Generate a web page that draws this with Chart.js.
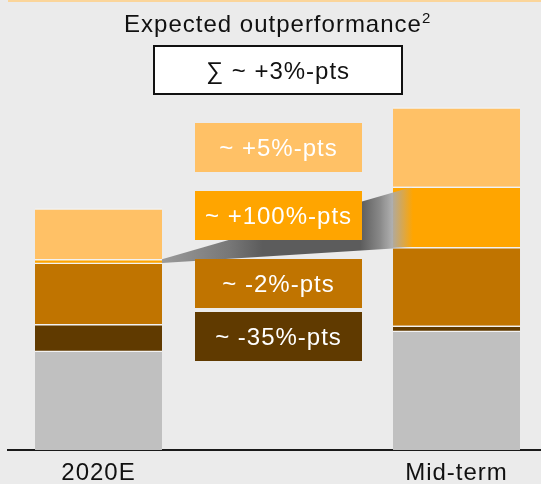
<!DOCTYPE html>
<html>
<head>
<meta charset="utf-8">
<script src="https://cdn.jsdelivr.net/npm/chart.js@4/dist/chart.umd.min.js"></script>
<style>
  body { margin: 0; background: #ebebeb; }
  canvas { display: block; }
</style>
</head>
<body>
<canvas id="grafico" width="541" height="484"></canvas>
<script>
// categorias y segmentos (de abajo hacia arriba)
const categorias = ["2020E", "Mid-term"];
const gris = [41.1, 49.4];
const marronOscuro = [11.0, 2.1];
const marron = [25.5, 32.6];
const naranja = [1.5, 25.1];
const naranjaClaro = [21.0, 32.8];

const etiquetas = ["~ +5%-pts", "~ +100%-pts", "~ -2%-pts", "~ -35%-pts"];
const titulo = "Expected outperformance";
const total = "\u2211 ~ +3%-pts";

const colores = ["#c0c0c0", "#603a00", "#c07400", "#ffa500", "#ffc166"];
const FUENTE = '"Liberation Sans", Arial, sans-serif';

document.addEventListener("DOMContentLoaded", () => {
  const series = [gris, marronOscuro, marron, naranja, naranjaClaro];

  const datasets = series.map((valores, i) => ({
    data: valores.map((v, j) => ({ x: j, y: v })),
    backgroundColor: colores[i],
    borderColor: "#f2f2f2",
    borderWidth: { top: 1.5, left: 0, right: 0, bottom: 0 },
    borderSkipped: false
  }));

  function texto(ctx, t, x, y, size, color) {
    ctx.font = `${size}px ${FUENTE}`;
    ctx.letterSpacing = "1px";
    ctx.fillStyle = color;
    ctx.textAlign = "center";
    ctx.textBaseline = "alphabetic";
    ctx.fillText(t, x, y);
  }

  const extras = {
    id: "extras",
    afterDatasetsDraw(chart) {
      const ctx = chart.ctx;
      const xs = chart.scales.x;
      const ys = chart.scales.y;
      const ancho = 127;
      ctx.save();

      // linea superior
      ctx.fillStyle = "#fbd59a";
      ctx.fillRect(8, 0, 533, 2);

      // conector gris entre los segmentos naranjas
      const base = (j) => gris[j] + marronOscuro[j] + marron[j];
      const x1 = xs.getPixelForValue(0) + ancho / 2;
      const x2 = xs.getPixelForValue(1) - ancho / 2 + 20;
      const a1 = ys.getPixelForValue(base(0) + naranja[0]);
      const b1 = ys.getPixelForValue(base(0));
      const a2 = ys.getPixelForValue(base(1) + naranja[1]);
      const b2 = ys.getPixelForValue(base(1));
      const grad = ctx.createLinearGradient(x1, 0, x2, 0);
      grad.addColorStop(0, "#9a9a9a");
      grad.addColorStop(0.27, "#777777");
      grad.addColorStop(0.4, "#5c5c5c");
      grad.addColorStop(0.79, "#5c5c5c");
      grad.addColorStop(0.87, "#8a8a8a");
      grad.addColorStop(0.92, "rgba(170,170,170,0.9)");
      grad.addColorStop(1, "rgba(170,170,170,0)");
      ctx.fillStyle = grad;
      ctx.beginPath();
      ctx.moveTo(x1, a1);
      ctx.lineTo(x2, a2);
      ctx.lineTo(x2, b2);
      ctx.lineTo(x1, b1);
      ctx.closePath();
      ctx.fill();

      // cajas de anotacion
      const cajas = [
        { y: 123, color: colores[4] },
        { y: 191, color: colores[3] },
        { y: 259, color: colores[2] },
        { y: 312, color: colores[1] }
      ];
      cajas.forEach((c, i) => {
        ctx.fillStyle = c.color;
        ctx.fillRect(195, c.y, 167, 49);
        texto(ctx, etiquetas[i], 278.5, c.y + 33, 24, "#ffffff");
      });

      // titulo con superindice
      ctx.font = `24px ${FUENTE}`;
      ctx.letterSpacing = "1px";
      const w = ctx.measureText(titulo).width;
      const x0 = 278 - (w + 10) / 2;
      ctx.textAlign = "left";
      ctx.fillStyle = "#111111";
      ctx.fillText(titulo, x0, 32);
      ctx.font = `15px ${FUENTE}`;
      ctx.fillText("2", x0 + w, 23);

      // caja del total
      ctx.fillStyle = "#ffffff";
      ctx.fillRect(153, 45, 249, 49);
      ctx.strokeStyle = "#111111";
      ctx.lineWidth = 2;
      ctx.strokeRect(154, 46, 248, 48);
      texto(ctx, total, 278, 79, 24, "#111111");

      // etiquetas del eje
      categorias.forEach((cat, j) => {
        texto(ctx, cat, xs.getPixelForValue(j), 480, 24, "#111111");
      });

      ctx.restore();
    }
  };

  new Chart(document.getElementById("grafico"), {
    type: "bar",
    data: { datasets },
    options: {
      responsive: false,
      animation: false,
      devicePixelRatio: 1,
      layout: { padding: { left: 8, right: 0, top: 16, bottom: 34 } },
      datasets: { bar: { barThickness: 127 } },
      plugins: { legend: { display: false }, tooltip: { enabled: false } },
      scales: {
        x: {
          type: "linear",
          stacked: true,
          offset: false,
          min: -0.2528,
          max: 1.236,
          ticks: { display: false },
          grid: { display: false, drawTicks: false },
          border: { display: true, color: "#1a1a1a", width: 2 }
        },
        y: {
          stacked: true,
          display: false,
          min: 0,
          max: 180
        }
      }
    },
    plugins: [extras]
  });
});
</script>
</body>
</html>
